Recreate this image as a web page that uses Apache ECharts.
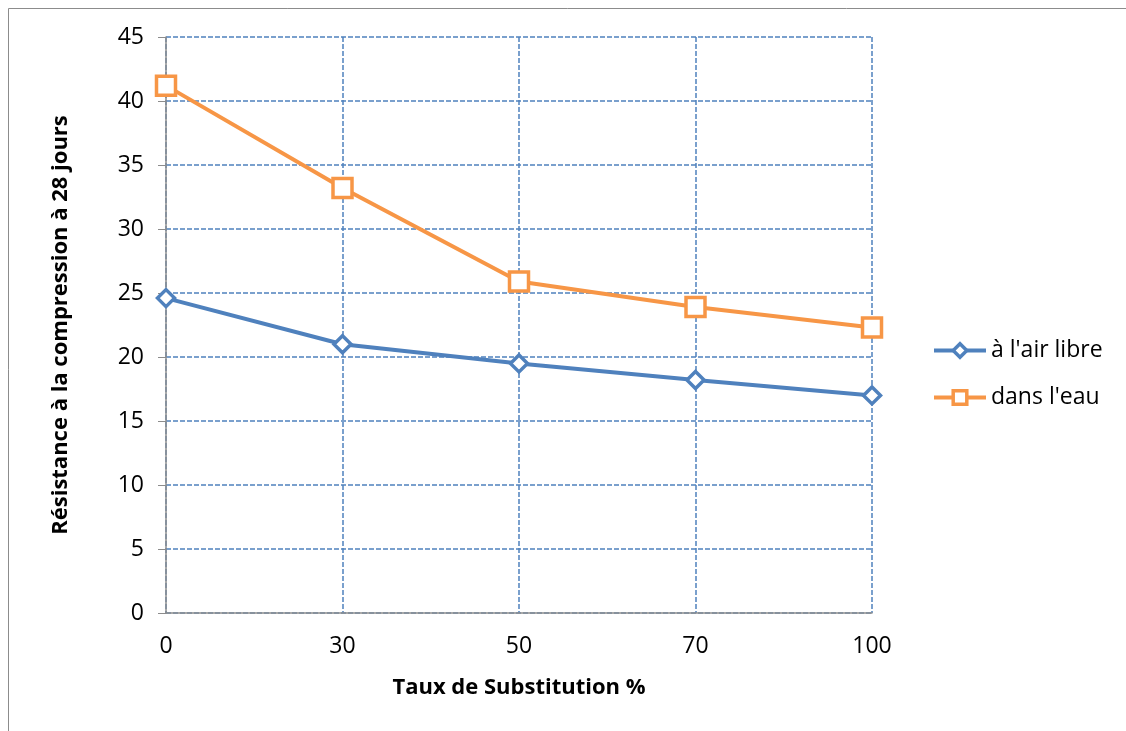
<!DOCTYPE html>
<html>
<head>
<meta charset="utf-8">
<script src="https://cdn.jsdelivr.net/npm/echarts@6/dist/echarts.min.js"></script>
<style>
  html, body { margin: 0; padding: 0; background: #fff; }
  #chart { width: 1126px; height: 731px; }
</style>
</head>
<body>
<div id="chart"></div>
<script>
// Compressive strength at 28 days versus substitution rate
const categories = ['0', '30', '50', '70', '100'];
const airLibre = [24.6, 21.0, 19.5, 18.2, 17.0];
const dansEau = [41.2, 33.2, 25.9, 23.9, 22.3];
const yTicks = { min: 0, max: 45, interval: 5 };

const FONT = '"Open Sans", "Liberation Sans", sans-serif';
const gridColor = '#4F81BD';
const blue = '#4F81BD';
const orange = '#F79646';

const chart = echarts.init(document.getElementById('chart'));
chart.setOption({
  backgroundColor: '#fff',
  animation: false,
  graphic: [
    { type: 'line', shape: { x1: 8.5, y1: 8.5, x2: 1126, y2: 8.5 }, style: { stroke: '#8c8c8c', lineWidth: 1 } },
    { type: 'line', shape: { x1: 8.5, y1: 8.5, x2: 8.5, y2: 731 }, style: { stroke: '#8c8c8c', lineWidth: 1 } }
  ],
  grid: { left: 166, top: 37, right: 254, bottom: 118, containLabel: false },
  legend: {
    orient: 'vertical',
    left: 927,
    top: 334,
    itemWidth: 52,
    itemHeight: 17,
    itemGap: 24,
    textStyle: { fontFamily: FONT, fontSize: 23, color: '#000' },
    data: [
      { name: 'à l\'air libre', lineStyle: { width: 4, color: blue }, itemStyle: { color: '#fff', borderColor: blue, borderWidth: 3.5 } },
      { name: 'dans l\'eau', lineStyle: { width: 4, color: orange }, itemStyle: { color: '#fff', borderColor: orange, borderWidth: 3.5 } }
    ]
  },
  xAxis: {
    type: 'category',
    data: categories,
    boundaryGap: false,
    name: 'Taux de Substitution %',
    nameLocation: 'middle',
    nameGap: 64,
    nameTextStyle: { fontFamily: FONT, fontSize: 22, fontWeight: 'bold', color: '#000' },
    axisLine: { lineStyle: { color: '#8c8c8c', width: 1.5 } },
    axisTick: { show: false },
    axisLabel: { fontFamily: FONT, fontSize: 23, color: '#000', margin: 22 },
    splitLine: { show: true, lineStyle: { color: gridColor, type: [5, 2], width: 1.5 } }
  },
  yAxis: {
    type: 'value',
    min: yTicks.min,
    max: yTicks.max,
    interval: yTicks.interval,
    name: 'Résistance à la compression à 28 jours',
    nameLocation: 'middle',
    nameGap: 94,
    nameTextStyle: { fontFamily: FONT, fontSize: 22, fontWeight: 'bold', color: '#000' },
    axisLine: { show: true, lineStyle: { color: '#8c8c8c', width: 1.5 } },
    axisTick: { show: true, length: 8, lineStyle: { color: '#8c8c8c' } },
    axisLabel: { fontFamily: FONT, fontSize: 23, color: '#000', margin: 22 },
    splitLine: { show: true, lineStyle: { color: gridColor, type: [5, 2], width: 1.5 } }
  },
  series: [
    {
      name: 'à l\'air libre',
      type: 'line',
      data: airLibre,
      symbol: 'diamond',
      symbolSize: 17,
      showAllSymbol: true,
      lineStyle: { color: blue, width: 4 },
      itemStyle: { color: '#fff', borderColor: blue, borderWidth: 3.5 },
      z: 3
    },
    {
      name: 'dans l\'eau',
      type: 'line',
      data: dansEau,
      symbol: 'rect',
      symbolSize: 19,
      showAllSymbol: true,
      lineStyle: { color: orange, width: 4 },
      itemStyle: { color: '#fff', borderColor: orange, borderWidth: 3.5 },
      z: 3
    }
  ]
});
</script>
</body>
</html>
